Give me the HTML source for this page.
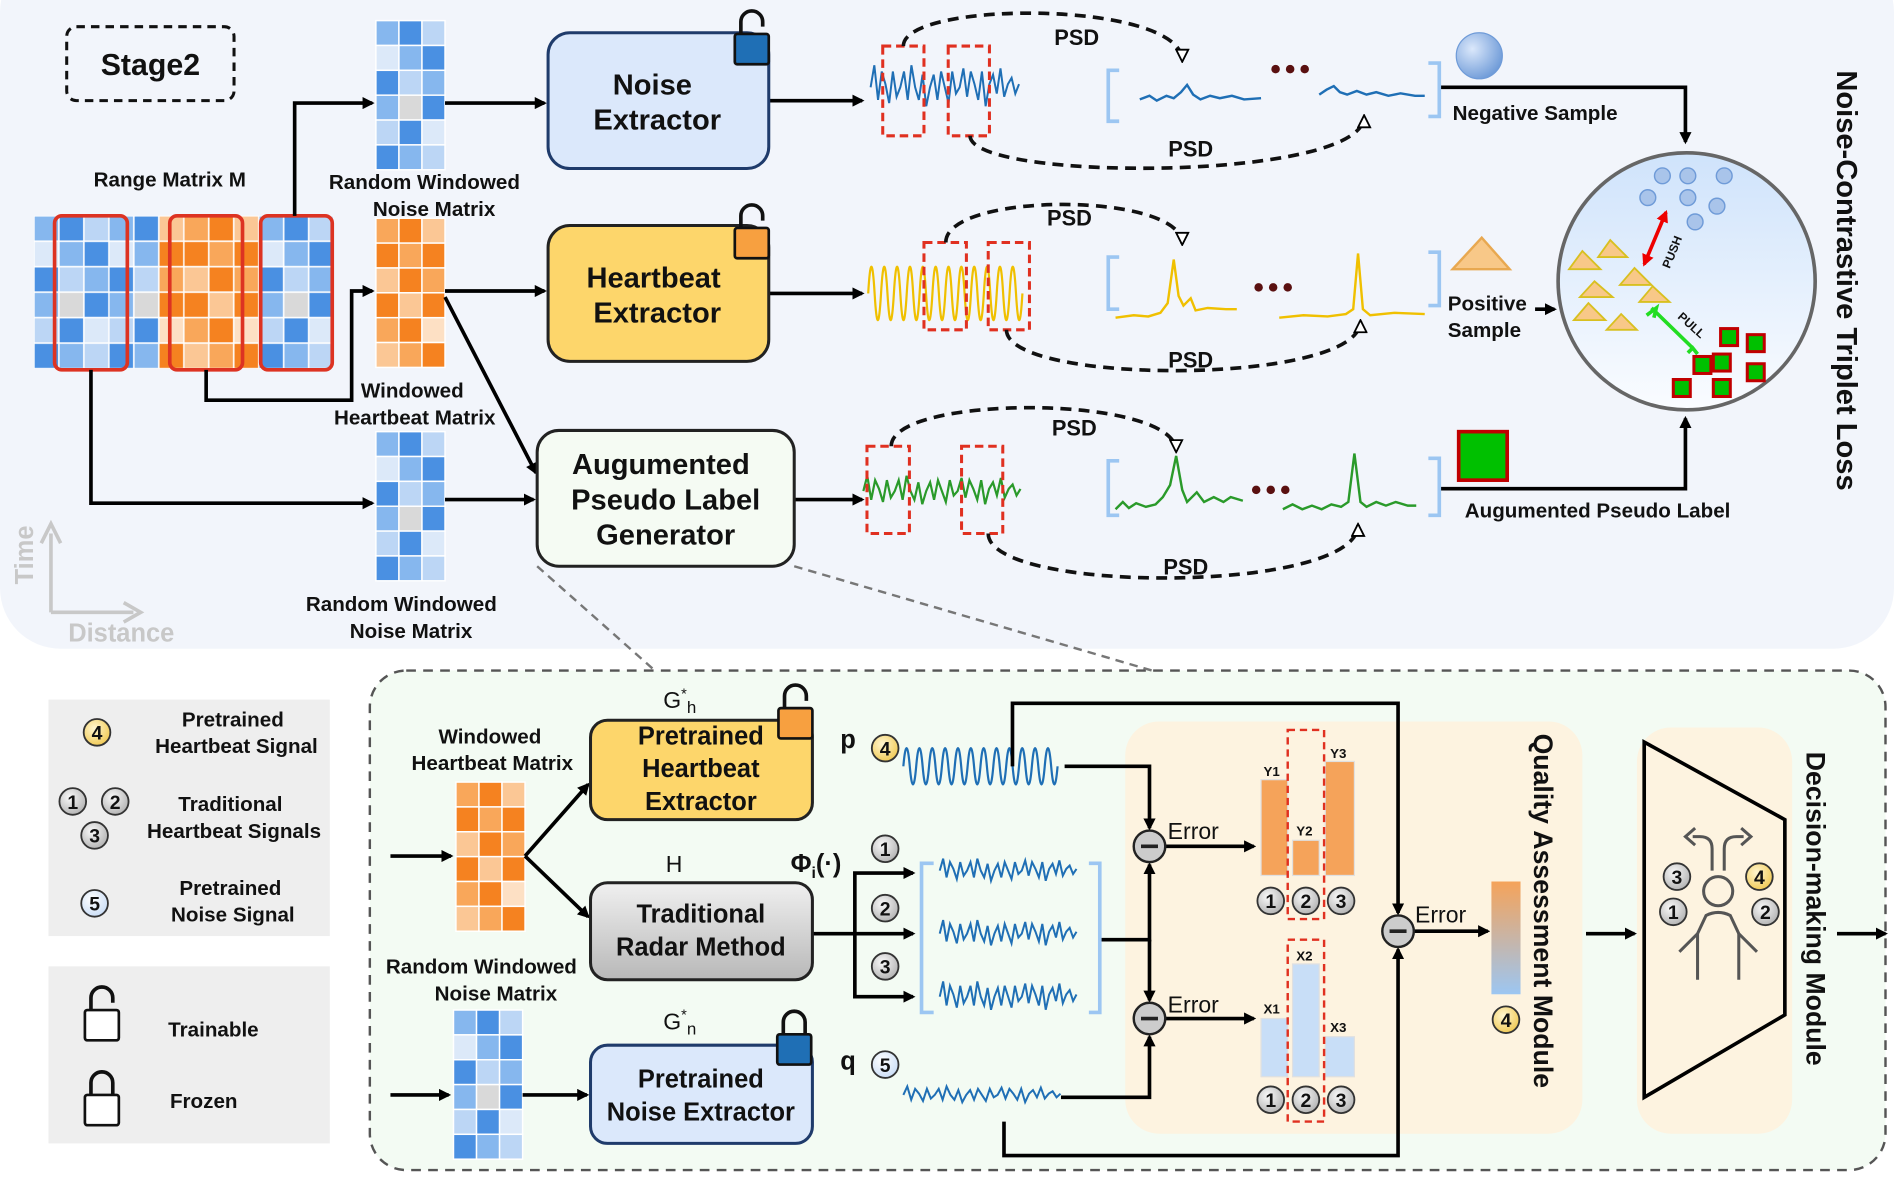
<!DOCTYPE html>
<html><head><meta charset="utf-8"><style>
html,body{margin:0;padding:0;background:#fff;}
svg{display:block;}
text{font-family:"Liberation Sans",Arial,sans-serif;font-weight:bold;fill:#111;}
</style></head><body>
<svg width="1894" height="1181" viewBox="0 0 1562 974" xmlns="http://www.w3.org/2000/svg" xmlns:xlink="http://www.w3.org/1999/xlink">
<defs>
<marker id="ar" markerWidth="10" markerHeight="10" refX="8" refY="5" orient="auto" markerUnits="userSpaceOnUse"><path d="M0,0 L10,5 L0,10 z" fill="#000"/></marker>
<marker id="ao" markerWidth="12" markerHeight="12" refX="10" refY="6" orient="auto" markerUnits="userSpaceOnUse"><path d="M1,1 L11,6 L1,11 z" fill="#fff" stroke="#000" stroke-width="1.5"/></marker>
<marker id="rr" markerWidth="10" markerHeight="10" refX="8" refY="5" orient="auto-start-reverse" markerUnits="userSpaceOnUse"><path d="M0,0 L10,5 L0,10 z" fill="#e00"/></marker>
<radialGradient id="bc" cx="0.35" cy="0.35" r="0.7"><stop offset="0" stop-color="#dbe8fb"/><stop offset="1" stop-color="#6f9bd8"/></radialGradient>
<linearGradient id="cg" x1="0" y1="0" x2="0" y2="1"><stop offset="0" stop-color="#cfe3fb"/><stop offset="1" stop-color="#fafcff"/></linearGradient>
<linearGradient id="gg" x1="0" y1="0" x2="0" y2="1"><stop offset="0" stop-color="#f0f0f0"/><stop offset="1" stop-color="#b8b8b8"/></linearGradient>
<linearGradient id="eg" x1="0" y1="0" x2="0" y2="1"><stop offset="0" stop-color="#f5a35a"/><stop offset="1" stop-color="#9cc6f2"/></linearGradient>
<radialGradient id="gc" cx="0.4" cy="0.35" r="0.7"><stop offset="0" stop-color="#fafafa"/><stop offset="1" stop-color="#b0b0b0"/></radialGradient>
<radialGradient id="yc" cx="0.4" cy="0.35" r="0.7"><stop offset="0" stop-color="#fff6d0"/><stop offset="1" stop-color="#f0c850"/></radialGradient>
<radialGradient id="lc" cx="0.4" cy="0.35" r="0.7"><stop offset="0" stop-color="#fff"/><stop offset="1" stop-color="#c8dcf6"/></radialGradient>

<pattern id="pB1" width="61.8" height="126" patternUnits="userSpaceOnUse" x="28" y="178">
<g stroke="#fff" stroke-width="1.2">
<rect x="0" y="0" width="20.6" height="21" fill="#86b7ee"/><rect x="20.6" y="0" width="20.6" height="21" fill="#4a90e2"/><rect x="41.2" y="0" width="20.6" height="21" fill="#bcd6f5"/>
<rect x="0" y="21" width="20.6" height="21" fill="#dce9f9"/><rect x="20.6" y="21" width="20.6" height="21" fill="#86b7ee"/><rect x="41.2" y="21" width="20.6" height="21" fill="#4a90e2"/>
<rect x="0" y="42" width="20.6" height="21" fill="#4a90e2"/><rect x="20.6" y="42" width="20.6" height="21" fill="#bcd6f5"/><rect x="41.2" y="42" width="20.6" height="21" fill="#86b7ee"/>
<rect x="0" y="63" width="20.6" height="21" fill="#86b7ee"/><rect x="20.6" y="63" width="20.6" height="21" fill="#d9d9d9"/><rect x="41.2" y="63" width="20.6" height="21" fill="#4a90e2"/>
<rect x="0" y="84" width="20.6" height="21" fill="#bcd6f5"/><rect x="20.6" y="84" width="20.6" height="21" fill="#4a90e2"/><rect x="41.2" y="84" width="20.6" height="21" fill="#dce9f9"/>
<rect x="0" y="105" width="20.6" height="21" fill="#4a90e2"/><rect x="20.6" y="105" width="20.6" height="21" fill="#86b7ee"/><rect x="41.2" y="105" width="20.6" height="21" fill="#bcd6f5"/>
</g></pattern>
<pattern id="pO1" width="61.8" height="126" patternUnits="userSpaceOnUse" x="28" y="178">
<g stroke="#fff" stroke-width="1.2">
<rect x="0" y="0" width="20.6" height="21" fill="#f9a75a"/><rect x="20.6" y="0" width="20.6" height="21" fill="#f58220"/><rect x="41.2" y="0" width="20.6" height="21" fill="#fbc795"/>
<rect x="0" y="21" width="20.6" height="21" fill="#f58220"/><rect x="20.6" y="21" width="20.6" height="21" fill="#f9a75a"/><rect x="41.2" y="21" width="20.6" height="21" fill="#f58220"/>
<rect x="0" y="42" width="20.6" height="21" fill="#fbc795"/><rect x="20.6" y="42" width="20.6" height="21" fill="#f58220"/><rect x="41.2" y="42" width="20.6" height="21" fill="#f9a75a"/>
<rect x="0" y="63" width="20.6" height="21" fill="#f58220"/><rect x="20.6" y="63" width="20.6" height="21" fill="#fbc795"/><rect x="41.2" y="63" width="20.6" height="21" fill="#f58220"/>
<rect x="0" y="84" width="20.6" height="21" fill="#f9a75a"/><rect x="20.6" y="84" width="20.6" height="21" fill="#f58220"/><rect x="41.2" y="84" width="20.6" height="21" fill="#fde0c4"/>
<rect x="0" y="105" width="20.6" height="21" fill="#fbc795"/><rect x="20.6" y="105" width="20.6" height="21" fill="#f9a75a"/><rect x="41.2" y="105" width="20.6" height="21" fill="#f58220"/>
</g></pattern>
<g id="mB">
<g stroke="#fff" stroke-width="1.2">
<rect x="0" y="0" width="19" height="20.5" fill="#86b7ee"/><rect x="19" y="0" width="19" height="20.5" fill="#4a90e2"/><rect x="38" y="0" width="19" height="20.5" fill="#bcd6f5"/>
<rect x="0" y="20.5" width="19" height="20.5" fill="#dce9f9"/><rect x="19" y="20.5" width="19" height="20.5" fill="#86b7ee"/><rect x="38" y="20.5" width="19" height="20.5" fill="#4a90e2"/>
<rect x="0" y="41" width="19" height="20.5" fill="#4a90e2"/><rect x="19" y="41" width="19" height="20.5" fill="#bcd6f5"/><rect x="38" y="41" width="19" height="20.5" fill="#86b7ee"/>
<rect x="0" y="61.5" width="19" height="20.5" fill="#86b7ee"/><rect x="19" y="61.5" width="19" height="20.5" fill="#d9d9d9"/><rect x="38" y="61.5" width="19" height="20.5" fill="#4a90e2"/>
<rect x="0" y="82" width="19" height="20.5" fill="#bcd6f5"/><rect x="19" y="82" width="19" height="20.5" fill="#4a90e2"/><rect x="38" y="82" width="19" height="20.5" fill="#dce9f9"/>
<rect x="0" y="102.5" width="19" height="20.5" fill="#4a90e2"/><rect x="19" y="102.5" width="19" height="20.5" fill="#86b7ee"/><rect x="38" y="102.5" width="19" height="20.5" fill="#bcd6f5"/>
</g></g>
<g id="mO">
<g stroke="#fff" stroke-width="1.2">
<rect x="0" y="0" width="19" height="20.5" fill="#f9a75a"/><rect x="19" y="0" width="19" height="20.5" fill="#f58220"/><rect x="38" y="0" width="19" height="20.5" fill="#fbc795"/>
<rect x="0" y="20.5" width="19" height="20.5" fill="#f58220"/><rect x="19" y="20.5" width="19" height="20.5" fill="#f9a75a"/><rect x="38" y="20.5" width="19" height="20.5" fill="#f58220"/>
<rect x="0" y="41" width="19" height="20.5" fill="#fbc795"/><rect x="19" y="41" width="19" height="20.5" fill="#f58220"/><rect x="38" y="41" width="19" height="20.5" fill="#f9a75a"/>
<rect x="0" y="61.5" width="19" height="20.5" fill="#f58220"/><rect x="19" y="61.5" width="19" height="20.5" fill="#fbc795"/><rect x="38" y="61.5" width="19" height="20.5" fill="#f58220"/>
<rect x="0" y="82" width="19" height="20.5" fill="#f9a75a"/><rect x="19" y="82" width="19" height="20.5" fill="#f58220"/><rect x="38" y="82" width="19" height="20.5" fill="#fde0c4"/>
<rect x="0" y="102.5" width="19" height="20.5" fill="#fbc795"/><rect x="19" y="102.5" width="19" height="20.5" fill="#f9a75a"/><rect x="38" y="102.5" width="19" height="20.5" fill="#f58220"/>
</g></g>
<path id="nz" fill="none" vector-effect="non-scaling-stroke" d="M0,0 l3,-14 l3,22 l3,-18 l3,8 l3,12 l3,-20 l3,16 l3,-6 l3,-10 l3,18 l3,-22 l3,14 l3,8 l3,-16 l3,20 l3,-12 l3,-8 l3,16 l3,-18 l3,10 l3,10 l3,-20 l3,14 l3,-4 l3,-12 l3,18 l3,-16 l3,8 l3,10 l3,-18 l3,22 l3,-14 l3,-6 l3,12 l3,-16 l3,18 l3,-8 l3,-4 l3,10 l3,-6"/>
<path id="sn" fill="none" vector-effect="non-scaling-stroke" d="M0,0 q2.5,-10 5,0 t5,0 t5,0 t5,0 t5,0 t5,0 t5,0 t5,0 t5,0 t5,0 t5,0 t5,0 t5,0 t5,0 t5,0 t5,0 t5,0 t5,0 t5,0 t5,0 t5,0 t5,0 t5,0 t5,0"/>
<g id="lockO"><path d="M-9,0 L-9,-10 A9,9 0 0 1 9,-10 L9,-6" fill="none" stroke="#111" stroke-width="3"/><rect x="-14" y="0" width="28" height="25" rx="2" stroke="#111" stroke-width="2.2"/></g>
<g id="lockC"><path d="M-9,0 L-9,-10 A9,9 0 0 1 9,-10 L9,0" fill="none" stroke="#111" stroke-width="3"/><rect x="-14" y="0" width="28" height="25" rx="2" stroke="#111" stroke-width="2.2"/></g>
<circle id="cg1" r="11" fill="url(#gc)" stroke="#333" stroke-width="1.5"/>
<circle id="cy1" r="11" fill="url(#yc)" stroke="#333" stroke-width="1.5"/>
<circle id="cl1" r="11" fill="url(#lc)" stroke="#333" stroke-width="1.5"/>
</defs>
<!-- top panel -->
<rect x="0" y="-40" width="1562" height="575" rx="50" fill="#f2f5fb"/>
<rect x="305" y="553" width="1250" height="412" rx="30" fill="#f3fbf3" stroke="#555" stroke-width="2" stroke-dasharray="8,6"/>
<rect x="40" y="577" width="232" height="195" fill="#eeeeee"/>
<rect x="40" y="797" width="232" height="146" fill="#eeeeee"/>

<rect x="55" y="22" width="138" height="61" rx="8" fill="none" stroke="#111" stroke-width="2.5" stroke-dasharray="7,5"/>
<text x="124" y="62" font-size="25" text-anchor="middle">Stage2</text>
<text x="140" y="154" font-size="17" text-anchor="middle">Range Matrix M</text>
<text x="350" y="156" font-size="17" text-anchor="middle">Random Windowed</text>
<text x="358" y="178" font-size="17" text-anchor="middle">Noise Matrix</text>
<text x="340" y="328" font-size="17" text-anchor="middle">Windowed</text>
<text x="342" y="350" font-size="17" text-anchor="middle">Heartbeat Matrix</text>
<text x="331" y="504" font-size="17" text-anchor="middle">Random Windowed</text>
<text x="339" y="526" font-size="17" text-anchor="middle">Noise Matrix</text>

<g stroke="#c8c8c8" stroke-width="3" fill="none"><path d="M42,505 L42,440"/><path d="M42,505 L110,505"/><path d="M34,448 L42,432 L50,448"/><path d="M102,497 L116,505 L102,513"/></g>
<text transform="translate(27,482) rotate(-90)" font-size="21" style="fill:#c8c8c8">Time</text>
<text x="100" y="529" font-size="21" text-anchor="middle" style="fill:#c8c8c8">Distance</text>

<!-- matrices -->
<rect x="28" y="178" width="247" height="126" fill="url(#pB1)"/>
<rect x="131" y="178" width="82.4" height="126" fill="url(#pO1)"/>
<use xlink:href="#mB" transform="translate(310,17)"/>
<use xlink:href="#mO" transform="translate(310,180)"/>
<use xlink:href="#mB" transform="translate(310,356)"/>
<use xlink:href="#mO" transform="translate(376,645)"/>
<use xlink:href="#mB" transform="translate(374,833)"/>
<g fill="none" stroke="#d32" stroke-width="3">
<rect x="45" y="178" width="60" height="127" rx="6"/><rect x="140" y="178" width="60" height="127" rx="6"/><rect x="215" y="178" width="59" height="127" rx="6"/></g>

<g stroke="#000" stroke-width="3" fill="none" marker-end="url(#ar)">
<path d="M243,178 L243,85 L307,85"/>
<path d="M367,85 L449,85"/>
<path d="M170,305 L170,330 L290,330 L290,240 L307,240"/>
<path d="M367,240 L449,240"/>
<path d="M367,245 L442,390"/>
<path d="M75,305 L75,415 L307,415"/>
<path d="M367,412 L440,412"/>
<path d="M634,83 L711,83"/>
<path d="M634,242 L711,242"/>
<path d="M655,412 L711,412"/>
<path d="M1188,72 L1390,72 L1390,117"/>
<path d="M1266,255 L1282,255"/>
<path d="M1188,403 L1390,403 L1390,345"/>
</g>
<rect x="452" y="27" width="182" height="112" rx="18" fill="#dbe8fb" stroke="#1f3b6b" stroke-width="2.5"/>
<text x="538" y="78" font-size="24" text-anchor="middle">Noise</text><text x="542" y="107" font-size="24" text-anchor="middle">Extractor</text>
<rect x="452" y="186" width="182" height="112" rx="18" fill="#fdd66b" stroke="#222" stroke-width="2.5"/>
<text x="539" y="237" font-size="24" text-anchor="middle">Heartbeat</text><text x="542" y="266" font-size="24" text-anchor="middle">Extractor</text>
<rect x="443" y="355" width="212" height="112" rx="18" fill="#f5fbf3" stroke="#222" stroke-width="2.5"/>
<text x="545" y="391" font-size="24" text-anchor="middle">Augumented</text><text x="549" y="420" font-size="24" text-anchor="middle">Pseudo Label</text><text x="549" y="449" font-size="24" text-anchor="middle">Generator</text>
<use xlink:href="#lockO" x="620" y="28" fill="#1f6fb5"/>
<use xlink:href="#lockO" x="620" y="188" fill="#f7a040"/>

<path d="M443,467 L540,553 M655,467 L950,553" stroke="#777" stroke-width="2" stroke-dasharray="7,5"/>

<!-- waves -->
<use xlink:href="#nz" transform="translate(718,72) scale(1.02,1.3)" stroke="#1f6fb5" stroke-width="2"/>
<use xlink:href="#sn" transform="translate(716,242) scale(1.06,4.4)" stroke="#f0c000" stroke-width="2.2"/>
<use xlink:href="#nz" transform="translate(712,405) scale(1.08,0.9)" stroke="#2a9a2a" stroke-width="2.2"/>
<use xlink:href="#sn" transform="translate(745,632) scale(1.06,3)" stroke="#1f6fb5" stroke-width="2.2"/>
<use xlink:href="#nz" transform="translate(775,718) scale(0.94,0.7)" stroke="#1f6fb5" stroke-width="2"/>
<use xlink:href="#nz" transform="translate(775,770) scale(0.94,0.8)" stroke="#1f6fb5" stroke-width="2"/>
<use xlink:href="#nz" transform="translate(775,822) scale(0.94,0.9)" stroke="#1f6fb5" stroke-width="2"/>
<use xlink:href="#nz" transform="translate(745,903) scale(1.08,0.5)" stroke="#1f6fb5" stroke-width="2"/>
<!-- spectra -->
<g fill="none" stroke-width="2">
<path stroke="#1f6fb5" d="M940,82 l8,-3 l6,4 l8,-4 l6,2 l6,-5 l5,-6 l5,8 l6,4 l8,-3 l8,2 l10,-2 l10,3 l14,-1"/>
<path stroke="#1f6fb5" d="M1088,78 l6,-4 l6,-3 l5,5 l6,2 l8,-3 l8,3 l8,-2 l10,3 l10,-2 l12,2 l8,0"/>
<path stroke="#f0c000" d="M920,262 l15,-2 l12,1 l10,-3 l6,-8 l5,-36 l4,30 l4,8 l6,-6 l4,10 l10,-2 l15,1 l9,0"/>
<path stroke="#f0c000" d="M1055,262 l20,-2 l20,1 l15,-2 l6,-4 l4,-46 l4,46 l6,5 l20,-2 l25,1"/>
<path stroke="#2a9a2a" d="M920,420 l6,-6 l5,5 l6,-4 l8,3 l8,-2 l6,-6 l6,-10 l5,-24 l5,28 l4,10 l8,-8 l6,8 l8,-4 l8,4 l6,-4 l10,3"/>
<path stroke="#2a9a2a" d="M1058,420 l8,-4 l8,4 l8,-3 l8,3 l8,-4 l8,2 l6,-4 l5,-40 l5,40 l5,4 l8,-4 l8,3 l8,-3 l10,3 l7,0"/>
</g>
<g fill="none" stroke="#e03020" stroke-width="2.5" stroke-dasharray="7,4">
<rect x="728" y="38" width="34" height="74"/><rect x="782" y="38" width="34" height="74"/>
<rect x="762" y="200" width="35" height="72"/><rect x="815" y="200" width="34" height="72"/>
<rect x="715" y="368" width="35" height="72"/><rect x="793" y="368" width="34" height="72"/>
</g>
<g fill="none" stroke="#111" stroke-width="3" stroke-dasharray="9,6" marker-end="url(#ao)">
<path d="M745,38 C745,0 975,0 975,50"/>
<path d="M800,112 C800,150 1125,150 1125,96"/>
<path d="M780,200 C780,158 975,158 975,201"/>
<path d="M830,272 C830,318 1122,318 1122,265"/>
<path d="M735,368 C735,325 970,325 970,372"/>
<path d="M815,440 C815,490 1120,490 1120,433"/>
</g>
<g font-size="18"><text x="888" y="37" text-anchor="middle">PSD</text><text x="982" y="129" text-anchor="middle">PSD</text><text x="882" y="186" text-anchor="middle">PSD</text><text x="982" y="303" text-anchor="middle">PSD</text><text x="886" y="359" text-anchor="middle">PSD</text><text x="978" y="474" text-anchor="middle">PSD</text></g>
<g fill="none" stroke="#9cc6f2" stroke-width="3">
<path d="M923,58 L914,58 L914,100 L923,100 M1178,52 L1187,52 L1187,96 L1178,96"/>
<path d="M923,212 L914,212 L914,255 L923,255 M1178,208 L1187,208 L1187,252 L1178,252"/>
<path d="M923,380 L914,380 L914,425 L923,425 M1178,378 L1187,378 L1187,425 L1178,425"/>
</g>
<g fill="#5a1010"><circle cx="1052" cy="57" r="3.5"/><circle cx="1064" cy="57" r="3.5"/><circle cx="1076" cy="57" r="3.5"/>
<circle cx="1038" cy="237" r="3.5"/><circle cx="1050" cy="237" r="3.5"/><circle cx="1062" cy="237" r="3.5"/>
<circle cx="1036" cy="404" r="3.5"/><circle cx="1048" cy="404" r="3.5"/><circle cx="1060" cy="404" r="3.5"/></g>

<circle cx="1220" cy="46" r="19" fill="url(#bc)" stroke="#6f9bd8"/>
<text x="1198" y="99" font-size="17">Negative Sample</text>
<path d="M1198,222 L1245,222 L1222,196 z" fill="#f8c888" stroke="#e8a850" stroke-width="2"/>
<text x="1194" y="256" font-size="17">Positive</text><text x="1194" y="278" font-size="17">Sample</text>
<rect x="1203" y="356" width="40" height="40" fill="#00c000" stroke="#c00000" stroke-width="3"/>
<text x="1208" y="427" font-size="17">Augumented Pseudo Label</text>

<circle cx="1391" cy="232" r="106" fill="url(#cg)" stroke="#666" stroke-width="3"/>
<g fill="#a9c4ea" stroke="#6f9bd8" stroke-width="1.2">
<circle cx="1371" cy="145" r="6.5"/><circle cx="1392" cy="145" r="6.5"/><circle cx="1422" cy="145" r="6.5"/><circle cx="1359" cy="163" r="6.5"/><circle cx="1392" cy="163" r="6.5"/><circle cx="1416" cy="170" r="6.5"/><circle cx="1398" cy="183" r="6.5"/></g>
<g fill="#f8c888" stroke="#d8c020" stroke-width="1.5">
<path d="M1294,222 L1320,222 L1305,207z"/><path d="M1318,212 L1342,212 L1328,198z"/><path d="M1303,245 L1330,245 L1315,232z"/><path d="M1298,264 L1324,264 L1310,250z"/><path d="M1336,235 L1362,235 L1348,221z"/><path d="M1325,272 L1350,272 L1337,259z"/><path d="M1352,249 L1377,249 L1363,236z"/></g>
<path d="M1356,218 L1374,175" stroke="#e00" stroke-width="3" marker-end="url(#rr)" marker-start="url(#rr)"/>
<text transform="translate(1377,222) rotate(-68)" font-size="10">PUSH</text>
<path d="M1362,254 L1396,287 M1358,260 L1366,254 L1364,262 M1392,291 L1396,287 L1400,292" stroke="#2d2" stroke-width="3" fill="none"/>
<text transform="translate(1383,262) rotate(42)" font-size="10">PULL</text>
<g fill="#00c000" stroke="#c00000" stroke-width="2.5">
<rect x="1419" y="271" width="14" height="14"/><rect x="1441" y="276" width="14" height="14"/><rect x="1397" y="294" width="14" height="14"/><rect x="1413" y="292" width="14" height="14"/><rect x="1441" y="300" width="14" height="14"/><rect x="1380" y="313" width="14" height="14"/><rect x="1413" y="313" width="14" height="14"/></g>
<text transform="translate(1515,58) rotate(90)" font-size="24">Noise-Contrastive Triplet Loss</text>

<g font-size="17" text-anchor="middle">
<text x="192" y="599">Pretrained</text><text x="195" y="621">Heartbeat Signal</text>
<text x="190" y="669">Traditional</text><text x="193" y="691">Heartbeat Signals</text>
<text x="190" y="738">Pretrained</text><text x="192" y="760">Noise Signal</text>
<text x="176" y="855">Trainable</text><text x="168" y="914">Frozen</text>
</g>
<use xlink:href="#lockO" x="84" y="833" fill="#fff"/>
<use xlink:href="#lockC" x="84" y="903" fill="#fff"/>

<g font-size="17" text-anchor="middle">
<text x="404" y="613">Windowed</text><text x="406" y="635">Heartbeat Matrix</text>
<text x="397" y="803">Random Windowed</text><text x="409" y="825">Noise Matrix</text>
</g>
<rect x="928" y="595" width="377" height="340" rx="28" fill="#fdf3e0"/>
<rect x="1350" y="600" width="128" height="335" rx="28" fill="#fdf3e0"/>
<g stroke="#000" stroke-width="3" fill="none" marker-end="url(#ar)">
<path d="M322,706 L372,706"/><path d="M433,706 L485,647"/><path d="M433,706 L485,756"/>
<path d="M322,903 L370,903"/><path d="M431,903 L484,903"/>
<path d="M670,770 L705,770 L705,720 L753,720"/><path d="M705,770 L753,770"/><path d="M705,770 L705,822 L753,822"/>
<path d="M878,632 L948,632 L948,683"/>
<path d="M908,775 L948,775 L948,713"/><path d="M948,775 L948,825"/>
<path d="M875,905 L948,905 L948,855"/>
<path d="M961,698 L1034,698"/><path d="M961,840 L1034,840"/>
<path d="M835,632 L835,580 L1153,580 L1153,753"/>
<path d="M828,925 L828,953 L1153,953 L1153,783"/>
<path d="M1166,768 L1227,768"/>
<path d="M1308,770 L1348,770"/><path d="M1515,770 L1555,770"/>
</g>
<g fill="#ccc" stroke="#222" stroke-width="2"><circle cx="948" cy="698" r="13"/><circle cx="948" cy="840" r="13"/><circle cx="1153" cy="768" r="13"/></g>
<g stroke="#222" stroke-width="3"><path d="M941,698 h14 M941,840 h14 M1146,768 h14"/></g>
<g font-size="19"><text x="963" y="692" style="font-weight:normal">Error</text><text x="963" y="835" style="font-weight:normal">Error</text><text x="1167" y="761" style="font-weight:normal">Error</text></g>

<rect x="487" y="594" width="183" height="82" rx="14" fill="#fdd66b" stroke="#222" stroke-width="2.5"/>
<g font-size="21" text-anchor="middle"><text x="578" y="614">Pretrained</text><text x="578" y="641">Heartbeat</text><text x="578" y="668">Extractor</text></g>
<rect x="487" y="728" width="183" height="80" rx="14" fill="url(#gg)" stroke="#222" stroke-width="2.5"/>
<g font-size="21" text-anchor="middle"><text x="578" y="761">Traditional</text><text x="578" y="788">Radar Method</text></g>
<rect x="487" y="862" width="183" height="81" rx="14" fill="#dbe8fb" stroke="#1f3b6b" stroke-width="2.5"/>
<g font-size="21" text-anchor="middle"><text x="578" y="897">Pretrained</text><text x="578" y="924">Noise Extractor</text></g>
<use xlink:href="#lockO" x="656" y="584" fill="#f7a040"/>
<use xlink:href="#lockC" x="655" y="853" fill="#1f6fb5"/>
<text x="547" y="584" font-size="19" style="font-weight:normal">G<tspan font-size="12" dy="-8">*</tspan><tspan font-size="14" dy="12">h</tspan></text>
<text x="549" y="719" font-size="19" style="font-weight:normal">H</text>
<text x="547" y="849" font-size="19" style="font-weight:normal">G<tspan font-size="12" dy="-8">*</tspan><tspan font-size="14" dy="12">n</tspan></text>
<text x="652" y="719" font-size="21">Φ<tspan font-size="13" dy="5">i</tspan><tspan dy="-5">(·)</tspan></text>
<text x="693" y="617" font-size="21">p</text><text x="693" y="882" font-size="21">q</text>
<g fill="none" stroke="#9cc6f2" stroke-width="3"><path d="M770,712 L760,712 L760,835 L770,835 M898,712 L907,712 L907,835 L898,835"/></g>

<g fill="#f5a35a" stroke="#e0e0e0"><rect x="1040" y="643" width="22" height="79"/><rect x="1066" y="693" width="22" height="29"/><rect x="1093" y="628" width="24" height="94"/></g>
<g fill="#c8def7" stroke="#e0e0e0"><rect x="1040" y="840" width="22" height="48"/><rect x="1066" y="795" width="22" height="93"/><rect x="1093" y="855" width="24" height="33"/></g>
<g fill="none" stroke="#e03020" stroke-width="2" stroke-dasharray="6,4"><rect x="1062" y="602" width="30" height="156"/><rect x="1062" y="775" width="30" height="150"/></g>
<g font-size="11"><text x="1042" y="640">Y1</text><text x="1069" y="689">Y2</text><text x="1097" y="625">Y3</text><text x="1042" y="836">X1</text><text x="1069" y="792">X2</text><text x="1097" y="851">X3</text></g>
<rect x="1230" y="727" width="24" height="93" fill="url(#eg)"/>
<text transform="translate(1265,605) rotate(90)" font-size="22">Quality Assessment Module</text>
<text transform="translate(1490,620) rotate(90)" font-size="22">Decision-making Module</text>
<path d="M1356,612 L1472,676 L1472,837 L1356,905 z" fill="none" stroke="#000" stroke-width="3"/>
<g fill="none" stroke="#555" stroke-width="2.5">
<circle cx="1417" cy="735" r="12"/>
<path d="M1385,785 L1400,770 L1407,755 Q1417,750 1427,755 L1434,770 L1449,785"/>
<path d="M1400,770 L1400,808 M1434,770 L1434,808"/>
<path d="M1412,718 L1412,700 Q1412,690 1402,690 L1396,690 M1422,718 L1422,700 Q1422,690 1432,690 L1438,690"/>
<path d="M1398,683 L1390,690 L1398,697 M1436,683 L1444,690 L1436,697"/>
</g>

<!-- numbered circles -->
<use xlink:href="#cy1" x="80" y="604"/><use xlink:href="#cg1" x="60" y="661"/><use xlink:href="#cg1" x="95" y="661"/><use xlink:href="#cg1" x="78" y="689"/><use xlink:href="#cl1" x="78" y="745"/>
<use xlink:href="#cy1" x="730" y="617"/><use xlink:href="#cl1" x="730" y="878"/><use xlink:href="#cg1" x="730" y="700"/><use xlink:href="#cg1" x="730" y="749"/><use xlink:href="#cg1" x="730" y="797"/>
<use xlink:href="#cg1" x="1048" y="743"/><use xlink:href="#cg1" x="1077" y="743"/><use xlink:href="#cg1" x="1106" y="743"/>
<use xlink:href="#cg1" x="1048" y="907"/><use xlink:href="#cg1" x="1077" y="907"/><use xlink:href="#cg1" x="1106" y="907"/>
<use xlink:href="#cy1" x="1242" y="841"/><use xlink:href="#cg1" x="1383" y="723"/><use xlink:href="#cy1" x="1451" y="723"/><use xlink:href="#cg1" x="1380" y="752"/><use xlink:href="#cg1" x="1456" y="752"/>
<g font-size="16" text-anchor="middle">
<text x="80" y="610">4</text><text x="60" y="667">1</text><text x="95" y="667">2</text><text x="78" y="695">3</text><text x="78" y="751">5</text>
<text x="730" y="623">4</text><text x="730" y="884">5</text><text x="730" y="706">1</text><text x="730" y="755">2</text><text x="730" y="803">3</text>
<text x="1048" y="749">1</text><text x="1077" y="749">2</text><text x="1106" y="749">3</text>
<text x="1048" y="913">1</text><text x="1077" y="913">2</text><text x="1106" y="913">3</text>
<text x="1242" y="847">4</text><text x="1383" y="729">3</text><text x="1451" y="729">4</text><text x="1380" y="758">1</text><text x="1456" y="758">2</text>
</g>
</svg>
</body></html>
